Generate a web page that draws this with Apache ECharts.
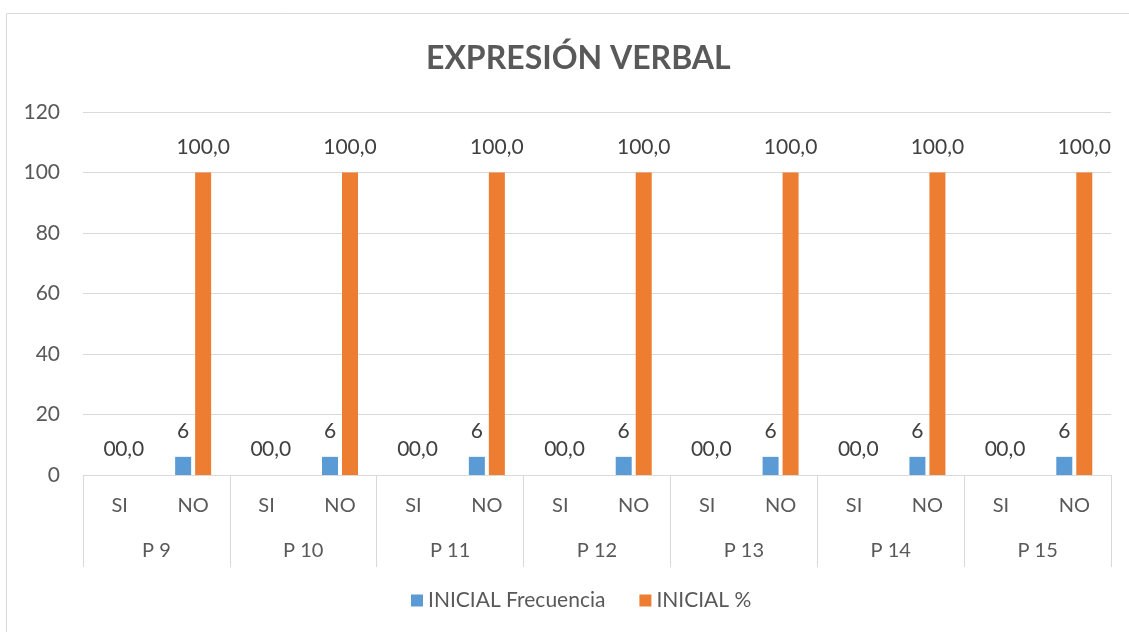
<!DOCTYPE html>
<html><head><meta charset="utf-8">
<script src="https://cdn.jsdelivr.net/npm/echarts@6/dist/echarts.min.js"></script>
<style>html,body{margin:0;padding:0;background:#fff}#c{width:1129px;height:632px}</style>
</head><body><div id="c"></div>
<script>
const subCategories = ['SI','NO','SI','NO','SI','NO','SI','NO','SI','NO','SI','NO','SI','NO'];
const groups = ['P 9','P 10','P 11','P 12','P 13','P 14','P 15'];
const frecuencia = [0,6,0,6,0,6,0,6,0,6,0,6,0,6];
const porcentaje = [0,100,0,100,0,100,0,100,0,100,0,100,0,100];
const yTicks = [0,20,40,60,80,100,120];

const FONT = 'Lato, "Liberation Sans", sans-serif';
const TXT = '#595959';
const chart = echarts.init(document.getElementById('c'));
chart.setOption({
  animation:false,
  graphic:[{type:'rect',shape:{x:6.5,y:13.5,width:1140,height:640},style:{fill:'none',stroke:'#d9d9d9',lineWidth:1}}],
  title:{text:'EXPRESIÓN VERBAL',left:421,top:38,textStyle:{fontFamily:FONT,fontSize:32,fontWeight:'bold',color:TXT}},
  legend:{bottom:16,left:406,itemWidth:12,itemHeight:12,itemGap:34,icon:'rect',
    textStyle:{fontFamily:FONT,fontSize:21,color:TXT}},
  grid:{left:83,right:18,top:112,bottom:157,containLabel:false},
  xAxis:[
    {type:'category',data:subCategories,axisTick:{show:false},
     axisLine:{lineStyle:{color:'#d9d9d9'}},
     axisLabel:{fontFamily:FONT,fontSize:20,color:TXT,margin:21}},
    {type:'category',data:groups,position:'bottom',
     axisLine:{show:false},
     axisTick:{show:true,length:92,alignWithLabel:false,lineStyle:{color:'#d9d9d9'}},
     axisLabel:{fontFamily:FONT,fontSize:20,color:TXT,margin:66}}
  ],
  yAxis:{type:'value',min:yTicks[0],max:yTicks[yTicks.length-1],interval:20,
    axisLine:{show:false},axisTick:{show:false},
    axisLabel:{fontFamily:FONT,fontSize:21,color:TXT,margin:23},
    splitLine:{lineStyle:{color:'#d9d9d9'}}},
  series:[
    {name:'INICIAL Frecuencia',type:'bar',xAxisIndex:0,data:frecuencia,barWidth:16,barGap:'25%',
     itemStyle:{color:'#5b9bd5'},
     label:{show:true,position:'top',distance:15,fontFamily:FONT,fontSize:21,color:'#404040',
       formatter:p=>String(p.value)}},
    {name:'INICIAL %',type:'bar',xAxisIndex:0,data:porcentaje,barWidth:16,
     itemStyle:{color:'#ed7d31'},
     label:{show:true,position:'top',distance:15,fontFamily:FONT,fontSize:21,color:'#404040',
       formatter:p=>p.value.toFixed(1).replace('.',',')}}
  ]
});
</script></body></html>
